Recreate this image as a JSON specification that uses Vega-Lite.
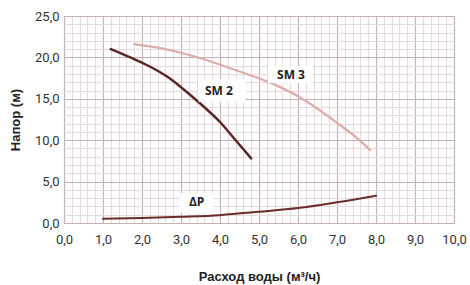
{
  "$schema": "https://vega.github.io/schema/vega-lite/v6.json",
  "width": 390,
  "height": 207,
  "autosize": "none",
  "padding": {"left": 64, "top": 16, "right": 16, "bottom": 62},
  "background": "white",
  "config": {
    "view": {"stroke": "#c9b9b9", "strokeWidth": 1},
    "axis": {"labelFont": "Liberation Sans Narrow, Roboto", "titleFont": "Liberation Sans, Arial", "labelColor": "#333", "titleColor": "#222"}
  },
  "datasets": {
    "curves": [
      {"series": "SM 2", "q": 1.2, "h": 21.0},
      {"series": "SM 2", "q": 1.7, "h": 20.0},
      {"series": "SM 2", "q": 2.2, "h": 18.9},
      {"series": "SM 2", "q": 2.7, "h": 17.5},
      {"series": "SM 2", "q": 3.0, "h": 16.4},
      {"series": "SM 2", "q": 3.5, "h": 14.4},
      {"series": "SM 2", "q": 4.0, "h": 12.2},
      {"series": "SM 2", "q": 4.4, "h": 10.0},
      {"series": "SM 2", "q": 4.8, "h": 7.8},
      {"series": "SM 3", "q": 1.8, "h": 21.6},
      {"series": "SM 3", "q": 2.5, "h": 21.1},
      {"series": "SM 3", "q": 3.5, "h": 19.9},
      {"series": "SM 3", "q": 4.5, "h": 18.3},
      {"series": "SM 3", "q": 5.5, "h": 16.5},
      {"series": "SM 3", "q": 6.0, "h": 15.3},
      {"series": "SM 3", "q": 6.5, "h": 13.8},
      {"series": "SM 3", "q": 7.0, "h": 12.1},
      {"series": "SM 3", "q": 7.5, "h": 10.3},
      {"series": "SM 3", "q": 7.85, "h": 8.8},
      {"series": "ΔP", "q": 1.0, "h": 0.5},
      {"series": "ΔP", "q": 2.0, "h": 0.6},
      {"series": "ΔP", "q": 3.0, "h": 0.75},
      {"series": "ΔP", "q": 4.0, "h": 0.95},
      {"series": "ΔP", "q": 5.0, "h": 1.35},
      {"series": "ΔP", "q": 6.0, "h": 1.8},
      {"series": "ΔP", "q": 7.0, "h": 2.5},
      {"series": "ΔP", "q": 8.0, "h": 3.3}
    ],
    "labels": [
      {"text": "SM 2", "q": 3.97, "h": 15.9, "q1": 3.45, "q2": 4.65, "h1": 17.4, "h2": 14.6},
      {"text": "SM 3", "q": 5.82, "h": 17.9, "q1": 5.23, "q2": 6.38, "h1": 19.0, "h2": 16.9},
      {"text": "ΔP", "q": 3.4, "h": 2.5, "q1": 2.98, "q2": 3.83, "h1": 3.6, "h2": 1.2}
    ]
  },
  "resolve": {"axis": {"x": "independent", "y": "independent"}},
  "layer": [
    {
      "data": {"name": "curves"},
      "mark": {"type": "point", "opacity": 0},
      "encoding": {
        "x": {
          "field": "q", "type": "quantitative",
          "scale": {"domain": [0, 10], "nice": false},
          "axis": {
            "orient": "bottom",
            "values": [0.2,0.4,0.6,0.8,1.2,1.4,1.6,1.8,2.2,2.4,2.6,2.8,3.2,3.4,3.6,3.8,4.2,4.4,4.6,4.8,5.2,5.4,5.6,5.8,6.2,6.4,6.6,6.8,7.2,7.4,7.6,7.8,8.2,8.4,8.6,8.8,9.2,9.4,9.6,9.8],
            "labels": false, "ticks": false, "domain": false, "title": null,
            "grid": true, "gridColor": "#e6d9d9", "gridWidth": 1
          }
        },
        "y": {
          "field": "h", "type": "quantitative",
          "scale": {"domain": [0, 25], "nice": false},
          "axis": {
            "orient": "left",
            "values": [1,2,3,4,6,7,8,9,11,12,13,14,16,17,18,19,21,22,23,24],
            "labels": false, "ticks": false, "domain": false, "title": null,
            "grid": true, "gridColor": "#e6d9d9", "gridWidth": 1
          }
        }
      }
    },
    {
      "data": {"name": "curves"},
      "mark": {"type": "line", "interpolate": "monotone", "strokeCap": "round"},
      "encoding": {
        "x": {
          "field": "q", "type": "quantitative",
          "axis": {
            "orient": "bottom",
            "values": [0,1,2,3,4,5,6,7,8,9,10],
            "labelExpr": "replace(format(datum.value, '.1f'), '.', ',')",
            "grid": true, "gridColor": "#c6b2b2", "gridWidth": 1.2,
            "ticks": false, "domain": false,
            "labelFontSize": 13, "labelPadding": 10, "labelFlush": false, "labelOverlap": false,
            "title": "Расход воды (м³/ч)", "titleFontSize": 13, "titleFontWeight": "bold", "titlePadding": 24
          }
        },
        "y": {
          "field": "h", "type": "quantitative",
          "axis": {
            "orient": "left",
            "values": [0,5,10,15,20,25],
            "labelExpr": "replace(format(datum.value, '.1f'), '.', ',')",
            "grid": true, "gridColor": "#c6b2b2", "gridWidth": 1.2,
            "ticks": false, "domain": false,
            "labelFontSize": 13, "labelPadding": 5, "labelFlush": false, "labelOverlap": false,
            "title": "Напор (м)", "titleFontSize": 13, "titleFontWeight": "bold", "titlePadding": 12
          }
        },
        "detail": {"field": "series"},
        "color": {
          "field": "series", "type": "nominal", "legend": null,
          "scale": {"domain": ["SM 2", "SM 3", "ΔP"], "range": ["#5a2626", "#dcaeab", "#6b2c2c"]}
        },
        "strokeWidth": {
          "field": "series", "type": "nominal", "legend": null,
          "scale": {"domain": ["SM 2", "SM 3", "ΔP"], "range": [2.5, 2, 2.5]}
        }
      }
    },
    {
      "data": {"name": "labels"},
      "mark": {"type": "rect", "fill": "white"},
      "encoding": {
        "x": {"field": "q1", "type": "quantitative", "axis": null},
        "x2": {"field": "q2"},
        "y": {"field": "h1", "type": "quantitative", "axis": null},
        "y2": {"field": "h2"}
      }
    },
    {
      "data": {"name": "labels"},
      "mark": {"type": "text", "font": "Open Sans", "fontWeight": "bold", "fontSize": 12, "color": "#222"},
      "encoding": {
        "x": {"field": "q", "type": "quantitative", "axis": null},
        "y": {"field": "h", "type": "quantitative", "axis": null},
        "text": {"field": "text"}
      }
    }
  ]
}
